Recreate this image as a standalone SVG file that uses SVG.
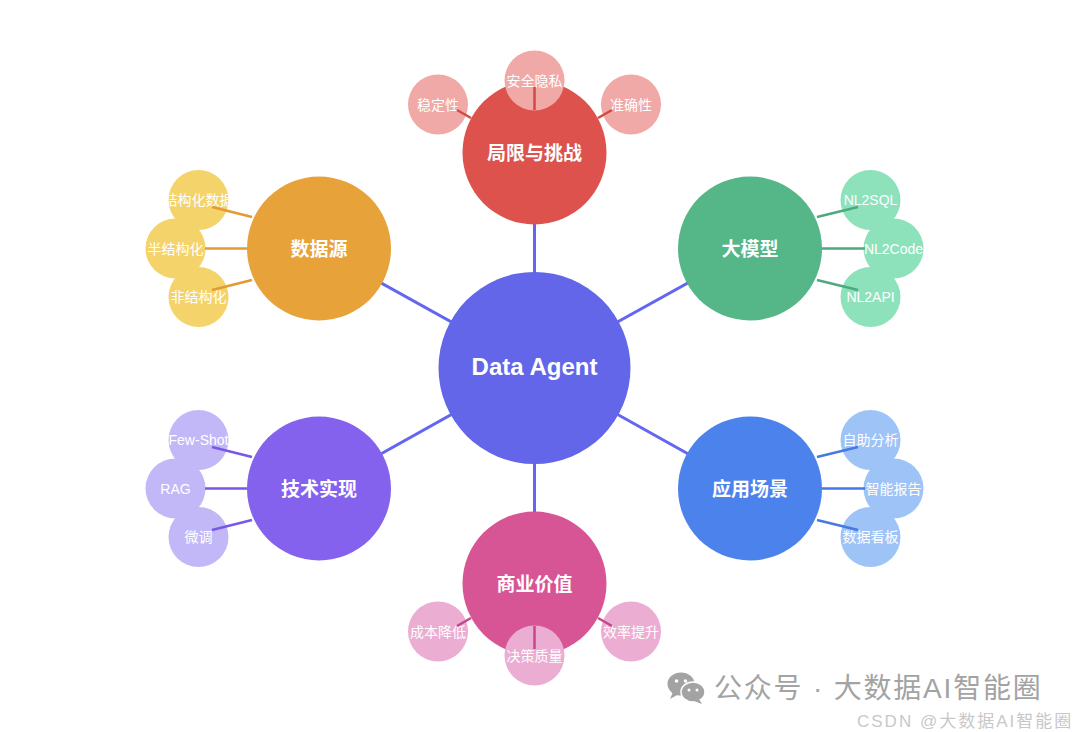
<svg xmlns="http://www.w3.org/2000/svg" width="1080" height="732" viewBox="0 0 1080 732">
<style>
text{font-family:"Liberation Sans","Noto Sans CJK SC",sans-serif;fill:#fff;text-anchor:middle}
.main{stroke:#6366F1;stroke-width:3;fill:none}
.ctr{font-size:24px;font-weight:bold}
.pt{font-size:19px;font-weight:bold}
.ct{font-size:14px}
.r1{fill:#DD524C}.r2{fill:#F0A9A6}.rl{stroke:#D04A46}
.o1{fill:#E8A23A}.o2{fill:#F4D36B}.ol{stroke:#E39A35}
.g1{fill:#55B688}.g2{fill:#8DE2BC}.gl{stroke:#4DAA7D}
.v1{fill:#8462EE}.v2{fill:#C2B8F8}.vl{stroke:#7A57E6}
.b1{fill:#4C82EC}.b2{fill:#9DC3F7}.bl{stroke:#4679E4}
.p1{fill:#D85595}.p2{fill:#ECADD3}.pl{stroke:#C8478A}
.sub line{stroke-width:2.5}
.wm{fill:#a3a3a3;text-anchor:start}
</style>
<rect width="1080" height="732" fill="#fff"/>
<g id="connectors">
<line class="main" x1="534.5" y1="368" x2="534.5" y2="152.5"/>
<line class="main" x1="534.5" y1="368" x2="319" y2="248.5"/>
<line class="main" x1="534.5" y1="368" x2="750" y2="248.5"/>
<line class="main" x1="534.5" y1="368" x2="319" y2="488.5"/>
<line class="main" x1="534.5" y1="368" x2="750" y2="488.5"/>
<line class="main" x1="534.5" y1="368" x2="534.5" y2="583.5"/>
</g>
<g id="center"><circle cx="534.5" cy="368" r="96" fill="#6366E8"/><text class="ctr" x="534.5" y="375">Data Agent</text></g>
<g id="limits"><circle class="r1" cx="534.5" cy="152.5" r="72"/><text class="pt" x="534.5" y="159.5">局限与挑战</text></g>
<g id="datasource"><circle class="o1" cx="319" cy="248.5" r="72"/><text class="pt" x="319" y="255.5">数据源</text></g>
<g id="llm"><circle class="g1" cx="750" cy="248.5" r="72"/><text class="pt" x="750" y="255.5">大模型</text></g>
<g id="tech"><circle class="v1" cx="319" cy="488.5" r="72"/><text class="pt" x="319" y="495.5">技术实现</text></g>
<g id="apps"><circle class="b1" cx="750" cy="488.5" r="72"/><text class="pt" x="750" y="495.5">应用场景</text></g>
<g id="value"><circle class="p1" cx="534.5" cy="583.5" r="72"/><text class="pt" x="534.5" y="590.5">商业价值</text></g>

<g id="c-stability"><circle class="r2" cx="438" cy="104.5" r="30"/><text class="ct" x="438" y="109.5">稳定性</text></g>
<g id="c-privacy"><circle class="r2" cx="534.5" cy="80.5" r="30"/><text class="ct" x="534.5" y="85.5">安全隐私</text></g>
<g id="c-accuracy"><circle class="r2" cx="631" cy="104.5" r="30"/><text class="ct" x="631" y="109.5">准确性</text></g>

<g id="c-structured"><circle class="o2" cx="198.5" cy="200" r="30"/><text class="ct" x="198.5" y="205">结构化数据</text></g>
<g id="c-semi"><circle class="o2" cx="175.5" cy="248.5" r="30"/><text class="ct" x="175.5" y="253.5">半结构化</text></g>
<g id="c-unstructured"><circle class="o2" cx="198.5" cy="297" r="30"/><text class="ct" x="198.5" y="302">非结构化</text></g>

<g id="c-nl2sql"><circle class="g2" cx="870.5" cy="200" r="30"/><text class="ct" x="870.5" y="205">NL2SQL</text></g>
<g id="c-nl2code"><circle class="g2" cx="893.5" cy="248.5" r="30"/><text class="ct" x="893.5" y="253.5">NL2Code</text></g>
<g id="c-nl2api"><circle class="g2" cx="870.5" cy="297" r="30"/><text class="ct" x="870.5" y="302">NL2API</text></g>

<g id="c-fewshot"><circle class="v2" cx="198.5" cy="440" r="30"/><text class="ct" x="198.5" y="445">Few-Shot</text></g>
<g id="c-rag"><circle class="v2" cx="175.5" cy="488.5" r="30"/><text class="ct" x="175.5" y="493.5">RAG</text></g>
<g id="c-finetune"><circle class="v2" cx="198.5" cy="537" r="30"/><text class="ct" x="198.5" y="542">微调</text></g>

<g id="c-selfservice"><circle class="b2" cx="870.5" cy="440" r="30"/><text class="ct" x="870.5" y="445">自助分析</text></g>
<g id="c-report"><circle class="b2" cx="893.5" cy="488.5" r="30"/><text class="ct" x="893.5" y="493.5">智能报告</text></g>
<g id="c-dashboard"><circle class="b2" cx="870.5" cy="537" r="30"/><text class="ct" x="870.5" y="542">数据看板</text></g>

<g id="c-cost"><circle class="p2" cx="438" cy="631.5" r="30"/><text class="ct" x="438" y="636.5">成本降低</text></g>
<g id="c-decision"><circle class="p2" cx="534.5" cy="655.5" r="30"/><text class="ct" x="534.5" y="660.5">决策质量</text></g>
<g id="c-efficiency"><circle class="p2" cx="631" cy="631.5" r="30"/><text class="ct" x="631" y="636.5">效率提升</text></g>

<g id="sub-connectors" class="sub">
<line class="rl" x1="457" y1="110" x2="471" y2="118"/>
<line class="rl" x1="534.5" y1="87" x2="534.5" y2="110"/>
<line class="rl" x1="612" y1="110" x2="598" y2="118"/>
<line class="ol" x1="212" y1="207" x2="252" y2="217"/>
<line class="ol" x1="205" y1="248.5" x2="247" y2="248.5"/>
<line class="ol" x1="212" y1="290" x2="252" y2="280"/>
<line class="gl" x1="858" y1="207" x2="817" y2="217"/>
<line class="gl" x1="865" y1="248.5" x2="822" y2="248.5"/>
<line class="gl" x1="858" y1="290" x2="817" y2="280"/>
<line class="vl" x1="212" y1="447" x2="252" y2="457"/>
<line class="vl" x1="205" y1="488.5" x2="247" y2="488.5"/>
<line class="vl" x1="212" y1="530" x2="252" y2="520"/>
<line class="bl" x1="858" y1="447" x2="817" y2="457"/>
<line class="bl" x1="865" y1="488.5" x2="822" y2="488.5"/>
<line class="bl" x1="858" y1="530" x2="817" y2="520"/>
<line class="pl" x1="457" y1="626" x2="471" y2="618"/>
<line class="pl" x1="534.5" y1="626" x2="534.5" y2="649"/>
<line class="pl" x1="612" y1="626" x2="598" y2="618"/>
</g>

<g id="watermark">
<ellipse cx="681" cy="684" rx="13.5" ry="11.5" fill="#a3a3a3"/>
<path d="M673 692 L670 699 L679 694 Z" fill="#a3a3a3"/>
<circle cx="676.5" cy="681" r="1.8" fill="#fff"/>
<circle cx="685.5" cy="681" r="1.8" fill="#fff"/>
<ellipse cx="693" cy="692" rx="12" ry="10" fill="#a3a3a3" stroke="#fff" stroke-width="1.5"/>
<path d="M699 699 L702 704 L694 701 Z" fill="#a3a3a3"/>
<circle cx="689" cy="690" r="1.5" fill="#fff"/>
<circle cx="697" cy="690" r="1.5" fill="#fff"/>
<text class="wm" x="714" y="698" font-size="28" letter-spacing="1.8">公众号 · 大数据AI智能圈</text>
<text class="wm" x="857" y="727" font-size="17" letter-spacing="2" style="fill:#c8c8c8">CSDN @大数据AI智能圈</text>
</g>
</svg>
